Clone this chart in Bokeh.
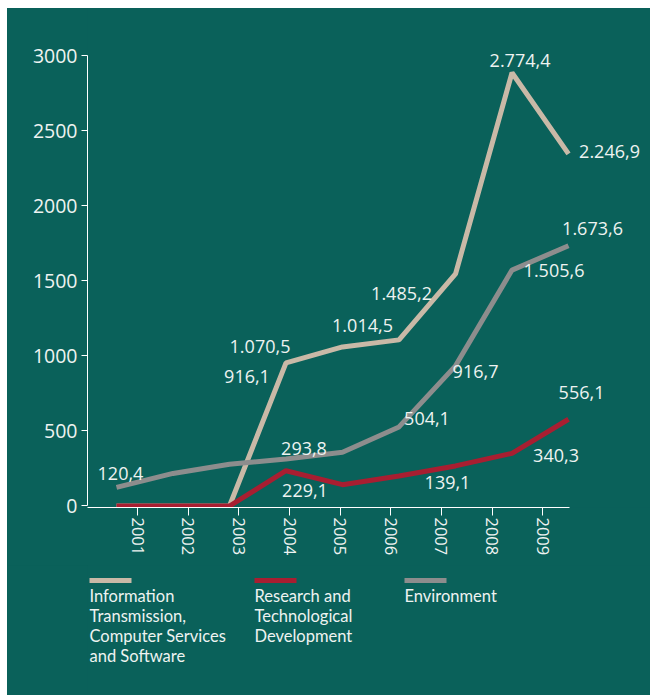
from bokeh.plotting import figure
from bokeh.models import ColumnDataSource, FixedTicker, Range1d
from bokeh.layouts import column
from bokeh.embed import file_html
from bokeh.resources import INLINE
from bokeh.core.properties import value

# ---------------- data ----------------
years = ["2001", "2002", "2003", "2004", "2005", "2006", "2007", "2008", "2009"]
info = [0, 0, 0, 954, 1060, 1107, 1546, 2887, 2346]
rnd = [0, 0, 0, 235, 142, 200, 267, 351, 578]
env = [124, 217, 278, 313, 358, 527, 934, 1572, 1734]

series_names = [
    "Information\nTransmission,\nComputer Services\nand Software",
    "Research and\nTechnological\nDevelopment",
    "Environment",
]

# data labels: (year index, text)
info_labels = [(3, "916,1"), (4, "1.014,5"), (5, "1.070,5"), (6, "1.485,2"), (7, "2.774,4"), (8, "2.246,9")]
env_labels = [(0, "120,4"), (3, "293,8"), (5, "504,1"), (6, "916,7"), (7, "1.505,6"), (8, "1.673,6")]
rnd_labels = [(3, "229,1"), (4, "139,1"), (7, "340,3"), (8, "556,1")]

y_ticks = [0, 500, 1000, 1500, 2000, 2500, 3000]

# ---------------- style ----------------
BG = "#0a615a"
BEIGE = "#c9b9a7"
RED = "#a81e31"
GRAY = "#8d8d8d"
TXT = "#eef3f1"
NUM_FONT = "Open Sans"
LEG_FONT = "Lato"

# label pixel offsets (dx, dy) relative to their data point
info_off = [(-39, 14), (20, -21), (-139, 7), (-54, 20), (8, -12), (41, -2)]
env_off = [(4, -14), (18, -11), (28, -8), (20, 6), (42, 0), (24, -17)]
rnd_off = [(19, 20), (105, -2), (44, 2), (13, -27)]

xs = list(range(len(years)))

W, H1, H2 = 643, 557, 130
FRAME_LEFT = 80

p = figure(width=W, height=H1, output_backend="svg", toolbar_location=None,
           x_range=Range1d(-0.513, 9.451), y_range=Range1d(-10, 3315),
           min_border_left=FRAME_LEFT, min_border_right=0, min_border_top=0, min_border_bottom=58)
p.background_fill_color = BG
p.border_fill_color = BG
p.styles = {"background-color": BG}
p.outline_line_color = None
p.xgrid.visible = False
p.ygrid.visible = False

# lines
p.line(xs, info, line_color=BEIGE, line_width=5)
p.line(xs, env, line_color=GRAY, line_width=5)
p.line(xs, rnd, line_color=RED, line_width=5)

# data labels
lx, ly, lt, ldx, ldy = [], [], [], [], []
for labels, offs, vals in ((info_labels, info_off, info), (env_labels, env_off, env), (rnd_labels, rnd_off, rnd)):
    for (i, t), (dx, dy) in zip(labels, offs):
        lx.append(xs[i]); ly.append(vals[i]); lt.append(t); ldx.append(dx); ldy.append(dy)
src = ColumnDataSource(dict(x=lx, y=ly, text=lt, dx=ldx, dy=ldy))
p.text(x="x", y="y", text="text", x_offset="dx", y_offset="dy", source=src,
       text_align="center", text_baseline="middle", text_color=TXT,
       text_font=value(NUM_FONT), text_font_size="18px")

# y axis
ya = p.yaxis[0]
ya.ticker = FixedTicker(ticks=y_ticks)
ya.bounds = (0, 3000)
ya.axis_line_color = "white"
ya.major_tick_line_color = "white"
ya.major_tick_out = 6
ya.major_tick_in = 0
ya.minor_tick_line_color = None
ya.major_label_standoff = 4
ya.major_label_text_color = TXT
ya.major_label_text_font = NUM_FONT
ya.major_label_text_font_size = "19.5px"

# x axis (ticks sit on their own spacing, as in the original)
tick_pos = [round(0.377 + 0.8956 * k, 4) for k in range(len(years))]
xa = p.xaxis[0]
xa.ticker = FixedTicker(ticks=tick_pos)
xa.major_label_overrides = {t: y for t, y in zip(tick_pos, years)}
xa.bounds = (-0.513, 8.018)
xa.axis_line_color = "white"
xa.major_tick_line_color = "white"
xa.major_tick_out = 8
xa.major_tick_in = 0
xa.minor_tick_line_color = None
xa.major_label_standoff = 2
xa.major_label_orientation = "vertical"
xa.major_label_text_color = TXT
xa.major_label_text_font = NUM_FONT
xa.major_label_text_font_size = "16.5px"

# ---------------- legend ----------------
q = figure(width=W, height=H2, output_backend="svg", toolbar_location=None,
           x_range=Range1d(FRAME_LEFT, W), y_range=Range1d(H2, 0),
           x_axis_type=None, y_axis_type=None,
           min_border_left=FRAME_LEFT, min_border_right=0, min_border_top=0, min_border_bottom=0)
q.background_fill_color = BG
q.border_fill_color = BG
q.styles = {"background-color": BG}
q.outline_line_color = None
q.xgrid.visible = False
q.ygrid.visible = False

leg_x = [82, 247, 397]
colors = [BEIGE, RED, GRAY]
q.segment(x0=leg_x, x1=[x + 42 for x in leg_x], y0=[15] * 3, y1=[15] * 3,
          line_color=colors, line_width=5)
q.text(x=leg_x, y=[20] * 3, text=series_names, text_align="left", text_baseline="top",
       text_color=TXT, text_font=value(LEG_FONT), text_font_size="16.5px", text_line_height=1.0)

layout = column(p, q, spacing=0, margin=(8, 0, 0, 7))
open("out.html", "w").write(file_html(layout, INLINE))
